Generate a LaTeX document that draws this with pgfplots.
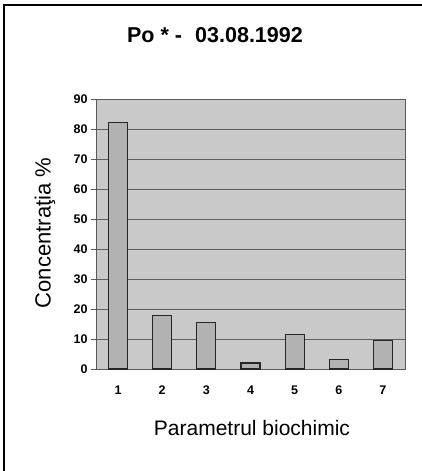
\documentclass[border=0pt]{standalone}
\usepackage{pgfplots}
\pgfplotsset{compat=1.18}
\usepackage{fontspec}
\setmainfont{Liberation Sans}
\definecolor{plotbg}{HTML}{C9C9C9}
\definecolor{barfill}{HTML}{B2B2B2}
\definecolor{gridc}{HTML}{5E5E5E}
\begin{document}
\begin{tikzpicture}[x=1pt,y=1pt]
\path[use as bounding box] (0,0) rectangle (422,471);
\draw[black, line width=1.2pt] (4,0) -- (4,466) -- (422,466);
\begin{axis}[
  at={(96pt,102pt)}, anchor=south west,
  scale only axis, width=309pt, height=270pt,
  xmin=0.5, xmax=7.5, ymin=0, ymax=90,
  axis background/.style={fill=plotbg},
  axis line style={gray!70!black, line width=0.6pt},
  xtick={1,...,7},
  major x tick style={draw=none},
  extra x ticks={1.5,2.5,3.5,4.5,5.5,6.5},
  extra x tick labels={},
  extra x tick style={major tick length=4pt, tick style={draw=gray!70!black}, grid=none},
  ytick={0,10,...,90},
  ymajorgrids,
  major grid style={gridc, line width=0.7pt},
  tick align=outside, tick pos=left,
  major tick length=5pt,
  y tick style={gray!70!black},
  ticklabel style={font=\bfseries\fontsize{12.5}{12.5}\selectfont},
  /pgf/number format/assume math mode=true,
  xticklabel style={yshift=-8pt},
  yticklabel style={xshift=0pt},
  ybar, bar width=19pt, bar shift=0pt,
  clip=false,
]
\addplot[fill=barfill, draw=black!85, line width=1.1pt] coordinates {
  (1,82.3) (2,17.7) (3,15.6) (4,2.0) (5,11.4) (6,3.3) (7,9.4)
};
\end{axis}
\node[font=\bfseries\fontsize{21.5}{21.5}\selectfont] at (215,436) {Po * -\,\, 03.08.1992};
\node[font=\fontsize{22}{22}\selectfont, rotate=90] at (45,238) {Concentraţia \%};
\node[font=\fontsize{21}{21}\selectfont] at (252,43) {Parametrul biochimic};
\end{tikzpicture}
\end{document}
